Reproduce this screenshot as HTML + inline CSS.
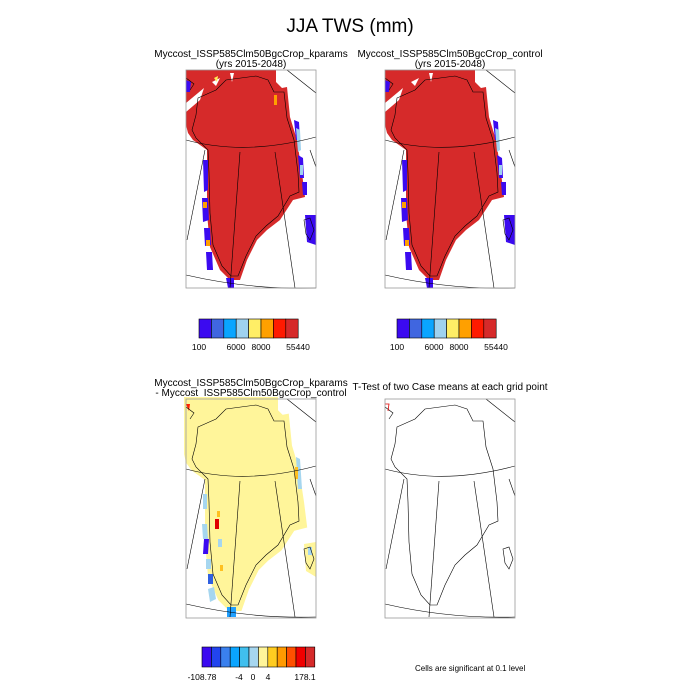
<!DOCTYPE html>
<html><head><style>
html,body{margin:0;padding:0;background:#fff;}
svg{display:block;font-family:"Liberation Sans",sans-serif;}
</style></head><body>
<svg width="700" height="700" viewBox="0 0 700 700">
<defs>
<path id="land" d="M0,0 L90,0 L90,12 L96,18 L101,17 L104,47 L111,70 L116,103 L119,127 L107,130 L94,150 L81,160 L71,170 L61,190 L54,210 L44,210 L34,200 L24,177 L21,143 L21,103 L21,80 L7,70 L2,63 L0,55 Z"/>
<path id="gaps" d="M0,33 L18,18 L14,30 L0,42 Z M26,12 L34,8 L30,16 Z M44,3 L48,3 L46,12 Z"/>
<path id="coast" d="M12,28 L30,20 L40,10 L70,6 L82,10 L88,22 L98,22 L101,48 L108,70 L112,103 L113,122 L104,126 L92,146 L80,156 L70,166 L60,186 L52,206 L45,206 L36,196 L27,175 L24,143 L23,103 L22,80 L10,68 L6,60 L10,45 Z M118,150 L124,148 L128,160 L124,170 L120,164 Z M0,8 L8,14 L4,20"/>
<g id="blue">
<path d="M17,90 L22,90 L22,120 L18,122 Z M16,128 L22,128 L23,150 L17,152 Z M18,158 L24,158 L25,175 L19,176 Z M20,182 L26,182 L27,200 L21,200 Z M40,208 L48,208 L48,218 L42,218 Z"/>
<path d="M108,50 L113,52 L114,70 L110,70 Z M112,85 L117,88 L118,108 L114,108 Z M116,112 L121,112 L121,125 L117,125 Z"/>
<path d="M119,145 L130,145 L130,175 L121,172 Z"/>
<path d="M0,10 L5,12 L4,22 L0,22 Z"/>
</g>
<g id="grid" fill="none" stroke="#000" stroke-width="0.6">
<path d="M0,70 Q59,86 130,67"/>
<path d="M0,205 Q65,220 130,218"/>
<path d="M54,82 L44,218"/>
<path d="M89,82 L109,218"/>
<path d="M19,80 L1,170"/>
<path d="M124,80 L130,97"/>
<path d="M101,0 L130,23"/>
</g>
</defs>
<text x="350" y="32" font-size="19" text-anchor="middle">JJA TWS (mm)</text>

<text x="251" y="57" font-size="10" text-anchor="middle">Myccost_ISSP585Clm50BgcCrop_kparams</text>
<text x="251" y="67" font-size="10" text-anchor="middle">(yrs 2015-2048)</text>
<g transform="translate(186,70)">
<use href="#land" fill="#d62a2a"/>
<use href="#gaps" fill="#fff"/>
<use href="#blue" fill="#3b0af0"/>
<path d="M110,58 L114,60 L115,80 L112,82 Z M114,95 L117,95 L117,105 L114,105 Z" fill="#9fd2ef"/>
<path d="M17,132 L21,132 L21,138 L17,138 Z M20,170 L24,170 L24,176 L20,176 Z" fill="#ffa000"/>
<path d="M28,8 L32,6 L31,12 Z" fill="#ffee55"/>
<path d="M88,25 L91,25 L91,35 L88,35 Z" fill="#ffa000"/>
<use href="#coast" fill="none" stroke="#000" stroke-width="0.6"/>
<use href="#grid"/>
<rect x="0" y="0" width="130" height="218" fill="none" stroke="#999" stroke-width="0.8"/>
</g>

<text x="450" y="57" font-size="10" text-anchor="middle">Myccost_ISSP585Clm50BgcCrop_control</text>
<text x="450" y="67" font-size="10" text-anchor="middle">(yrs 2015-2048)</text>
<g transform="translate(385,70)">
<use href="#land" fill="#d62a2a"/>
<use href="#gaps" fill="#fff"/>
<use href="#blue" fill="#3b0af0"/>
<path d="M110,58 L114,60 L115,80 L112,82 Z M114,95 L117,95 L117,105 L114,105 Z" fill="#9fd2ef"/>
<path d="M17,132 L21,132 L21,138 L17,138 Z M20,170 L24,170 L24,176 L20,176 Z" fill="#ffa000"/>
<use href="#coast" fill="none" stroke="#000" stroke-width="0.6"/>
<use href="#grid"/>
<rect x="0" y="0" width="130" height="218" fill="none" stroke="#999" stroke-width="0.8"/>
</g>

<g stroke="#000" stroke-width="0.6">
<rect x="199" y="319" width="12.4" height="19" fill="#3b0af0"/>
<rect x="211.4" y="319" width="12.4" height="19" fill="#4066e0"/>
<rect x="223.8" y="319" width="12.4" height="19" fill="#0aa5ff"/>
<rect x="236.2" y="319" width="12.4" height="19" fill="#9fd2ef"/>
<rect x="248.6" y="319" width="12.4" height="19" fill="#ffee66"/>
<rect x="261" y="319" width="12.4" height="19" fill="#ffa000"/>
<rect x="273.4" y="319" width="12.4" height="19" fill="#ff1a00"/>
<rect x="285.8" y="319" width="12.4" height="19" fill="#d62a2a"/>
<rect x="397" y="319" width="12.4" height="19" fill="#3b0af0"/>
<rect x="409.4" y="319" width="12.4" height="19" fill="#4066e0"/>
<rect x="421.8" y="319" width="12.4" height="19" fill="#0aa5ff"/>
<rect x="434.2" y="319" width="12.4" height="19" fill="#9fd2ef"/>
<rect x="446.6" y="319" width="12.4" height="19" fill="#ffee66"/>
<rect x="459" y="319" width="12.4" height="19" fill="#ffa000"/>
<rect x="471.4" y="319" width="12.4" height="19" fill="#ff1a00"/>
<rect x="483.8" y="319" width="12.4" height="19" fill="#d62a2a"/>
</g>
<g font-size="8.5" text-anchor="middle">
<text x="199" y="350">100</text><text x="236" y="350">6000</text><text x="261" y="350">8000</text><text x="298" y="350">55440</text>
<text x="397" y="350">100</text><text x="434" y="350">6000</text><text x="459" y="350">8000</text><text x="496" y="350">55440</text>
</g>

<text x="251" y="386" font-size="10" text-anchor="middle">Myccost_ISSP585Clm50BgcCrop_kparams</text>
<text x="251" y="396" font-size="10" text-anchor="middle">- Myccost_ISSP585Clm50BgcCrop_control</text>
<g transform="translate(186,399)">
<use href="#land" fill="#fff59a" stroke="#fff59a" stroke-width="4"/>
<path d="M118,145 L130,143 L130,178 L120,172 Z" fill="#fff59a"/>
<path d="M17,95 L21,95 L21,110 L17,110 Z M16,125 L21,125 L22,140 L17,140 Z M20,160 L25,160 L25,170 L20,170 Z M22,190 L28,188 L30,200 L24,203 Z M32,140 L36,140 L36,148 L32,148 Z M110,58 L114,60 L116,90 L112,90 Z M122,148 L126,148 L126,156 L122,156 Z" fill="#a6d6ef"/>
<path d="M18,140 L23,140 L22,155 L17,155 Z" fill="#3b0af0"/>
<path d="M29,120 L33,120 L33,130 L29,130 Z" fill="#e00000"/>
<path d="M31,112 L34,112 L34,118 L31,118 Z M34,166 L37,166 L37,172 L34,172 Z M109,68 L112,68 L112,80 L109,80 Z" fill="#ffc020"/>
<path d="M22,175 L27,175 L27,185 L22,185 Z" fill="#3060e0"/>
<path d="M41,208 L50,208 L50,218 L41,218 Z" fill="#20a0ff"/>
<path d="M0,5 L4,5 L3,12 Z" fill="#ff2000"/>
<use href="#coast" fill="none" stroke="#000" stroke-width="0.6"/>
<use href="#grid"/>
<rect x="0" y="0" width="130" height="219" fill="none" stroke="#999" stroke-width="0.8"/>
</g>

<text x="450" y="390" font-size="10" text-anchor="middle">T-Test of two Case means at each grid point</text>
<g transform="translate(385,399)">
<use href="#coast" fill="none" stroke="#000" stroke-width="0.6"/>
<use href="#grid"/>
<path d="M0,5 L4,5 L3,12" fill="none" stroke="#e00000" stroke-width="0.8"/>
<rect x="0" y="0" width="130" height="219" fill="none" stroke="#999" stroke-width="0.8"/>
</g>

<g stroke="#000" stroke-width="0.6">
<rect x="202" y="647" width="9.4" height="20" fill="#3b0af0"/>
<rect x="211.4" y="647" width="9.4" height="20" fill="#2244ee"/>
<rect x="220.8" y="647" width="9.4" height="20" fill="#3a80ee"/>
<rect x="230.2" y="647" width="9.4" height="20" fill="#0aa5ff"/>
<rect x="239.6" y="647" width="9.4" height="20" fill="#40bfee"/>
<rect x="249" y="647" width="9.4" height="20" fill="#a6d6ef"/>
<rect x="258.4" y="647" width="9.4" height="20" fill="#fff59a"/>
<rect x="267.8" y="647" width="9.4" height="20" fill="#ffcc20"/>
<rect x="277.2" y="647" width="9.4" height="20" fill="#ff9a00"/>
<rect x="286.6" y="647" width="9.4" height="20" fill="#ff5000"/>
<rect x="296" y="647" width="9.4" height="20" fill="#f00000"/>
<rect x="305.4" y="647" width="9.4" height="20" fill="#d62a2a"/>
</g>
<g font-size="8.5" text-anchor="middle">
<text x="202" y="680">-108.78</text><text x="239" y="680">-4</text><text x="253" y="680">0</text><text x="268" y="680">4</text><text x="305" y="680">178.1</text>
</g>
<text x="415" y="671" font-size="8">Cells are significant at 0.1 level</text>
</svg>
</body></html>
